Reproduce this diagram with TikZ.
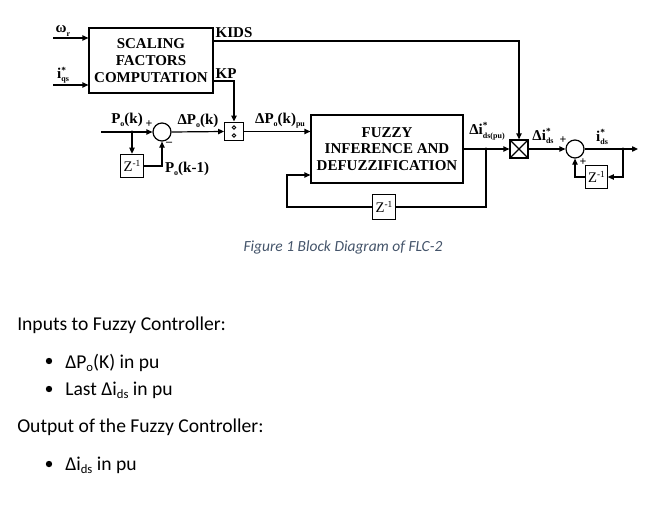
\documentclass[tikz,border=0pt]{standalone}
\usepackage{fontspec}
\setmainfont{Carlito}
\newfontfamily\blockfont{Liberation Serif}
\usepackage{xcolor}
\definecolor{captionblue}{RGB}{68, 84, 106}
\usetikzlibrary{arrows.meta, positioning, calc}

% small raised / lowered texts for the labels
\newcommand\lowtxt[1]{\raisebox{-0.45ex}{\fontsize{6}{6}\selectfont #1}}
\newcommand\hightxt[1]{\raisebox{0.85ex}{\fontsize{7}{7}\selectfont #1}}
\newcommand\hilo[2]{\raisebox{-0.45ex}{\shortstack[l]{\fontsize{7}{7}\selectfont #1\\
                    \fontsize{6}{6}\selectfont #2}}}
\newcommand\bodysub[1]{\raisebox{-0.35ex}{\fontsize{9.5}{9.5}\selectfont #1}}

\tikzset{
  blockbox/.style={draw, line width=0.9pt, align=center, inner sep=0pt,
                   font=\blockfont\bfseries\fontsize{11.25}{12.6}\selectfont},
  zbox/.style={draw, line width=0.9pt, inner sep=0pt, minimum width=17.5pt,
               minimum height=17.5pt, font=\blockfont\fontsize{11}{11}\selectfont},
  sumnode/.style={circle, draw, line width=0.9pt, inner sep=0pt, minimum size=13.5pt},
  lbl/.style={inner sep=0pt, font=\blockfont\bfseries\fontsize{11.25}{12.5}\selectfont},
  sign/.style={inner sep=0pt, font=\blockfont\bfseries\fontsize{9}{9}\selectfont},
  sig/.style={line width=0.9pt, -{Triangle[length=4.5pt, width=4pt]}},
  wire/.style={line width=0.9pt},
  bodytext/.style={anchor=base west, inner sep=0pt, font=\fontsize{14.7}{17}\selectfont},
  captext/.style={anchor=base, inner sep=0pt, text=captionblue,
                  font=\itshape\fontsize{11.6}{14}\selectfont}
}

\begin{document}
\begin{tikzpicture}[x=0.75pt, y=-0.75pt]
\useasboundingbox (0,0) rectangle (655,531);

% blocks
\node[blockbox, minimum width=93pt, minimum height=48.75pt] (scal) at (151,60.5)
      {SCALING\\FACTORS\\COMPUTATION};
\node[blockbox, minimum width=114pt, minimum height=51pt] (fuzzy) at (387,149)
      {FUZZY\\INFERENCE AND\\DEFUZZIFICATION};
\node[sumnode] (sum1) at (162,132) {};
\node[sumnode] (sum2) at (575,149) {};
\node[zbox] (z1) at (132,166) {Z\hightxt{-1}};
\node[zbox, minimum height=18.5pt] (z2) at (384,207) {Z\hightxt{-1}};
\node[zbox, minimum width=16pt] (z3) at (596.5,177) {Z\hightxt{-1}};
\node[draw, line width=0.9pt, inner sep=0pt, minimum size=14pt,
      path picture={\draw[line width=0.6pt]
        ([yshift=3pt]path picture bounding box.center) circle (1.3pt)
        ([yshift=-3pt]path picture bounding box.center) circle (1.3pt);}]
      (div) at (234,131.5) {};
\node[draw, line width=0.9pt, inner sep=0pt, minimum size=13.5pt,
      path picture={\draw[line width=0.9pt]
        (path picture bounding box.north west) -- (path picture bounding box.south east)
        (path picture bounding box.south west) -- (path picture bounding box.north east);}]
      (mult) at (519,149) {};

% free ends and bends
\coordinate (wr) at (53,38);
\coordinate (iq) at (53,85);
\coordinate (kids) at (213,41);
\coordinate (kp) at (213,81);
\coordinate (pin) at (101,132);
\coordinate (br1) at (132,132);
\coordinate (br2) at (486,149);
\coordinate (br3) at (623,149);
\coordinate (fb) at (287,175);
\coordinate (out) at (638,149);

% connectors
\draw[sig] (wr) -- (wr -| scal.west);
\draw[sig] (iq) -- (iq -| scal.west);
\draw[sig] (kids) -| (mult.north);
\draw[sig] (kp) -| (div.north);
\draw[sig] (pin) -- (sum1.west);
\draw[sig] (br1) -- (z1.north);
\draw[sig] (z1.east) -| (sum1.south);
\draw[sig] (sum1.east) -- (div.west);
\draw[sig] (div.east) -- (div.east -| fuzzy.west);
\draw[sig] (fuzzy.east) -- (mult.west);
\draw[wire] (br2) |- (z2.east);
\draw[sig] (z2.west) -| (fb) -- (fb -| fuzzy.west);
\draw[sig] (mult.east) -- (sum2.west);
\draw[sig] (sum2.east) -- (out);
\draw[sig] (br3) |- (z3.east);
\draw[sig] (z3.west) -| (sum2.south);
\fill (br1) circle (1.3pt);
\fill (br2) circle (1.3pt);
\fill (br3) circle (1.3pt);

% labels
\node[lbl] (lwr) at (63,31) {ω\lowtxt{r}};
\node[lbl] (liq) at (63,75) {i\hilo{*}{qs}};
\node[lbl] (lkids) at (234,33) {KIDS};
\node[lbl] (lkp) at (226,74) {KP};
\node[lbl] (lpk) at (127,120) {P\lowtxt{o}(k)};
\node[sign] (lplus1) at (149,124) {+};
\node[sign] (lminus1) at (169,144) {\textendash};
\node[lbl] (lpk1) at (187,169) {P\lowtxt{o}(k-1)};
\node[lbl] (ldpk) at (198,121) {ΔP\lowtxt{o}(k)};
\node[lbl] (ldpkpu) at (280,121) {ΔP\lowtxt{o}(k)\lowtxt{pu}};
\node[lbl] (ldi) at (543,136) {Δi\hilo{*}{ds}};
\node[lbl] (ldipu) at (487,131) {Δi\hilo{*}{ds(pu)}};
\node[sign] (lplus2) at (563,140) {+};
\node[sign] (lplus3) at (583,162) {+};
\node[lbl] (lids) at (602,137) {i\hilo{*}{ds}};

% caption and text
\node[captext] (cap) at (343,251) {Figure 1 Block Diagram of FLC-2};
\node[bodytext] (tin) at (17,330) {Inputs to Fuzzy Controller:};
\node[bodytext] (tin1) at (65,368) {ΔP\bodysub{o}(K) in pu};
\node[bodytext] (tin2) at (65,395) {Last Δi\bodysub{ds} in pu};
\node[bodytext] (tout) at (17,432) {Output of the Fuzzy Controller:};
\node[bodytext] (tout1) at (65,470) {Δi\bodysub{ds} in pu};
\foreach \y in {361,389,464}
  \fill (49,\y) circle (2.4pt);
\end{tikzpicture}
\end{document}
